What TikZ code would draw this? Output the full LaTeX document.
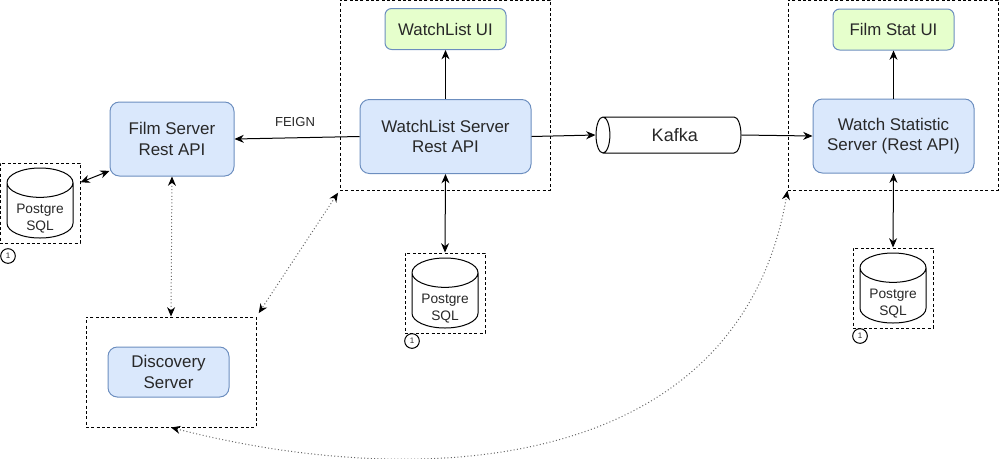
\documentclass[tikz,border=0pt]{standalone}
\usepackage{fontspec}
\setmainfont{Liberation Sans}
\usetikzlibrary{shapes.geometric, arrows.meta, positioning}
\definecolor{serverblue}{RGB}{218,232,252}
\definecolor{uigreen}{RGB}{230,255,204}
\definecolor{strokeblue}{RGB}{108,142,191}
\definecolor{labelgray}{RGB}{40,40,40}
\newcommand{\pgsqltext}{\smash{\raisebox{-15pt}{\shortstack{Postgre\\[0.5pt]SQL}}}}
\tikzset{
  server/.style={
    rectangle, rounded corners=7pt, minimum width=93pt, minimum height=55.5pt, line width=0.75pt,
    draw=strokeblue, fill=serverblue, align=center, font=\fontsize{12.7}{15.5}\selectfont,
    text=labelgray, inner sep=0pt
  },
  uibox/.style={
    rectangle, rounded corners=5pt, minimum width=90.75pt, minimum height=30.75pt, line width=0.75pt,
    draw=strokeblue, fill=uigreen, align=center, font=\fontsize{12.6}{15.5}\selectfont,
    text=labelgray, inner sep=0pt
  },
  store/.style={
    cylinder, shape border rotate=90, shape aspect=0.62, minimum width=49.5pt, minimum height=52.5pt,
    anchor=shape center, line width=0.75pt, draw=black, fill=white,
    font=\fontsize{10.3}{12.8}\selectfont, text=labelgray, inner sep=0pt
  },
  queue/.style={
    cylinder, shape border rotate=180, shape aspect=1.05, minimum width=27pt, minimum height=108.75pt,
    anchor=shape center, line width=0.75pt, draw=black, fill=white, font=\fontsize{13.5}{16}\selectfont,
    text=labelgray, inner sep=0pt
  },
  groupbox/.style={rectangle, draw=black, line width=0.75pt, dash pattern=on 2.2pt off 1.8pt, inner sep=0pt},
  badge/.style={
    circle, draw=black, line width=0.75pt, minimum size=11pt, inner sep=0pt,
    font=\fontsize{6}{7}\selectfont, text=labelgray
  },
  arrow/.style={-{Stealth[length=7pt,width=6pt]}, line width=0.75pt},
  arrowboth/.style={{Stealth[length=7pt,width=6pt]}-{Stealth[length=7pt,width=6pt]}, line width=0.75pt},
  dotarrow/.style={{Stealth[length=7pt,width=6pt,color=black]}-{Stealth[length=7pt,width=6pt,color=black]},
    line width=0.75pt, color=black!60, dash pattern=on 0.75pt off 1.75pt}
}
\begin{document}
\begin{tikzpicture}[x=0.75pt, y=-0.75pt]
  \useasboundingbox (0,0) rectangle (999,458);

  % Dashed groups
  \node[groupbox, minimum width=157.5pt, minimum height=142.5pt] (watch_box) at (445,95) {};
  \node[groupbox, minimum width=157.5pt, minimum height=142.5pt] (stat_box) at (893,95) {};
  \node[groupbox, minimum width=127.5pt, minimum height=82.5pt] (disc_box) at (171,372) {};
  \node[groupbox, minimum width=60pt, minimum height=60pt] (film_db_box) at (40,203) {};
  \node[groupbox, minimum width=60pt, minimum height=60pt] (watch_db_box) at (445,293) {};
  \node[groupbox, minimum width=60pt, minimum height=60pt] (stat_db_box) at (893,288) {};

  % Servers
  \node[server] (film) at (172,139) {Film Server\\Rest API};
  \node[server, minimum width=128.25pt] (watch_srv) at (445.5,136.5) {WatchList Server\\Rest API};
  \node[server, minimum width=120.75pt] (stat_srv) at (893.5,136) {Watch Statistic\\Server (Rest API)};
  \node[server, minimum width=90.75pt, minimum height=37.5pt] (disc) at (168.5,372) {Discovery\\Server};

  % UIs
  \node[uibox, above=36.75pt of watch_srv] (watch_ui) {WatchList UI};
  \node[uibox, above=36pt of stat_srv] (stat_ui) {Film Stat UI};

  % Kafka
  \node[queue] (kafka) at (668.5,135) {\kern3.8pt Kafka};

  % Databases
  \node[store] (film_db) at (40,203) {\pgsqltext};
  \node[store] (watch_db) at (445,293) {\pgsqltext};
  \node[store] (stat_db) at (893,288) {\pgsqltext};
  \node[badge] (film_badge) at (8,256) {1};
  \node[badge] (watch_badge) at (412,341) {1};
  \node[badge] (stat_badge) at (860,336) {1};

  % Solid connectors
  \draw[arrow] (watch_srv.west) -- (film.east)
    node[pos=0.516, above=5pt, font=\fontsize{9.8}{12}\selectfont, text=labelgray] (feign) {FEIGN};
  \draw[arrow] (watch_srv.north) -- (watch_ui.south);
  \draw[arrow] (stat_srv.north) -- (stat_ui.south);
  \draw[arrow] (watch_srv.east) -- (kafka.west);
  \draw[arrow] (kafka.east) -- (stat_srv.west);
  \draw[arrowboth] (film_db_box.27) -- (film.207);
  \draw[arrowboth] (watch_srv.south) -- (watch_db_box.north);
  \draw[arrowboth] (stat_srv.south) -- (stat_db_box.north);

  % Registry connectors
  \draw[dotarrow] (film.south) -- (disc_box.north);
  \draw[dotarrow, shorten >=3pt, shorten <=2pt] (watch_box.south west) -- (disc_box.north east);
  \draw[dotarrow] (disc_box.south) .. controls (430,494) and (740,470) .. (stat_box.south west);
\end{tikzpicture}
\end{document}
